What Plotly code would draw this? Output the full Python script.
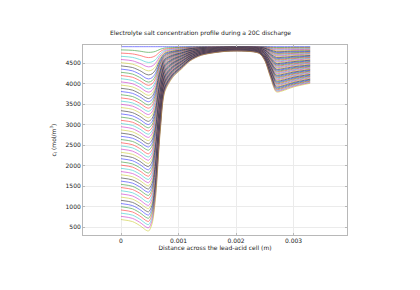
import plotly.graph_objects as go

# Distance across the cell (m) at which each profile was read
x_positions = [0, 0.0002, 0.00035, 0.00042, 0.00048, 0.00054, 0.0006, 0.00068, 0.00076, 0.0009,
               0.00105, 0.0012, 0.0014, 0.0019, 0.0024, 0.0025, 0.0026, 0.0027, 0.0028, 0.0030, 0.00329]

# Electrolyte concentration (mol/m^3), one row per time snapshot
concentration_profiles = [
    [4900]*21,
    [4822,4811,4786,4769,4762,4767,4786,4836,4867,4878,4884,4890,4895,4898,4897,4894,4886,4880,4880,4882,4884],
    [4744,4724,4678,4647,4634,4644,4681,4777,4837,4858,4870,4882,4890,4896,4894,4887,4872,4859,4860,4864,4867],
    [4666,4639,4576,4534,4516,4531,4584,4722,4808,4839,4856,4873,4885,4894,4891,4881,4858,4839,4840,4845,4850],
    [4588,4556,4480,4430,4408,4427,4495,4672,4782,4821,4844,4865,4881,4892,4888,4875,4844,4818,4820,4827,4834],
    [4510,4474,4390,4334,4310,4333,4414,4626,4758,4805,4832,4858,4877,4890,4885,4869,4831,4798,4800,4809,4818],
    [4432,4392,4300,4238,4212,4239,4334,4580,4735,4789,4820,4851,4872,4888,4882,4862,4817,4778,4780,4791,4801],
    [4354,4311,4210,4143,4114,4145,4253,4535,4711,4773,4809,4844,4868,4886,4879,4856,4803,4757,4760,4773,4784],
    [4276,4233,4132,4065,4036,4070,4189,4498,4692,4760,4799,4837,4865,4884,4876,4850,4789,4737,4740,4754,4768],
    [4198,4155,4054,3987,3958,3995,4124,4462,4672,4747,4790,4831,4861,4882,4873,4843,4775,4716,4720,4736,4752],
    [4120,4075,3970,3900,3870,3910,4052,4420,4651,4733,4779,4824,4857,4880,4870,4837,4761,4696,4700,4718,4735],
    [4042,3997,3892,3822,3792,3835,3988,4384,4631,4719,4769,4818,4853,4878,4867,4831,4747,4676,4680,4700,4719],
    [3964,3919,3814,3744,3714,3760,3923,4347,4612,4706,4760,4812,4849,4876,4864,4824,4733,4655,4660,4682,4702],
    [3886,3841,3736,3666,3636,3686,3859,4311,4593,4693,4750,4806,4846,4874,4861,4818,4719,4635,4640,4663,4686],
    [3808,3763,3658,3588,3558,3611,3795,4274,4574,4680,4741,4800,4842,4872,4858,4812,4705,4614,4620,4645,4669],
    [3730,3685,3580,3510,3480,3536,3730,4238,4554,4667,4731,4794,4838,4870,4855,4806,4692,4594,4600,4627,4653],
    [3652,3607,3502,3432,3402,3461,3666,4201,4535,4654,4721,4787,4834,4868,4852,4799,4678,4574,4580,4609,4636],
    [3574,3529,3424,3354,3324,3386,3602,4164,4516,4641,4712,4781,4831,4866,4849,4793,4664,4553,4560,4591,4620],
    [3496,3451,3346,3276,3246,3311,3537,4128,4497,4628,4702,4775,4827,4864,4846,4787,4650,4533,4540,4572,4603],
    [3418,3373,3268,3198,3168,3236,3473,4091,4477,4615,4693,4769,4823,4862,4843,4780,4636,4512,4520,4554,4586],
    [3340,3293,3184,3111,3080,3151,3400,4050,4456,4600,4682,4762,4819,4860,4840,4774,4622,4492,4500,4536,4570],
    [3262,3215,3106,3033,3002,3076,3336,4013,4437,4587,4672,4756,4815,4858,4837,4768,4608,4472,4480,4518,4554],
    [3184,3137,3028,2955,2924,3001,3272,3977,4417,4574,4663,4750,4812,4856,4834,4761,4594,4451,4460,4500,4537],
    [3106,3059,2950,2877,2846,2926,3207,3940,4398,4561,4653,4744,4808,4854,4831,4755,4580,4431,4440,4481,4520],
    [3028,2981,2872,2799,2768,2851,3143,3904,4379,4548,4644,4737,4804,4852,4828,4749,4566,4410,4420,4463,4504],
    [2950,2903,2794,2721,2690,2776,3079,3867,4360,4535,4634,4731,4800,4850,4825,4743,4553,4390,4400,4445,4488],
    [2872,2825,2716,2643,2612,2701,3015,3831,4340,4522,4624,4725,4797,4848,4822,4736,4539,4370,4380,4427,4471],
    [2794,2747,2638,2565,2534,2626,2950,3794,4321,4508,4615,4719,4793,4846,4819,4730,4525,4349,4360,4409,4454],
    [2716,2669,2560,2487,2456,2552,2886,3757,4302,4495,4605,4713,4789,4844,4816,4724,4511,4329,4340,4390,4438],
    [2638,2591,2482,2409,2378,2477,2822,3721,4283,4482,4596,4706,4785,4842,4813,4717,4497,4308,4320,4372,4421],
    [2560,2511,2398,2322,2290,2392,2749,3680,4261,4468,4585,4700,4781,4840,4810,4711,4483,4288,4300,4354,4405],
    [2482,2433,2320,2244,2212,2317,2685,3643,4242,4455,4575,4694,4778,4838,4807,4705,4469,4268,4280,4336,4389],
    [2404,2355,2242,2166,2134,2242,2620,3607,4223,4441,4566,4687,4774,4836,4804,4698,4455,4247,4260,4318,4372],
    [2326,2277,2164,2088,2056,2167,2556,3570,4203,4428,4556,4681,4770,4834,4801,4692,4441,4227,4240,4299,4355],
    [2248,2199,2086,2010,1978,2092,2492,3533,4184,4415,4547,4675,4766,4832,4798,4686,4427,4206,4220,4281,4339],
    [2170,2121,2008,1932,1900,2017,2427,3497,4165,4402,4537,4669,4763,4830,4795,4680,4414,4186,4200,4263,4323],
    [2092,2043,1930,1854,1822,1942,2363,3460,4146,4389,4527,4663,4759,4828,4792,4673,4400,4166,4180,4245,4306],
    [2014,1965,1852,1776,1744,1867,2299,3424,4126,4376,4518,4656,4755,4826,4789,4667,4386,4145,4160,4227,4290],
    [1936,1887,1774,1698,1666,1792,2234,3387,4107,4363,4508,4650,4751,4824,4786,4661,4372,4125,4140,4208,4273],
    [1858,1809,1696,1620,1588,1717,2170,3351,4088,4350,4499,4644,4748,4822,4783,4654,4358,4104,4120,4190,4256],
    [1780,1731,1618,1542,1510,1642,2106,3314,4069,4337,4489,4638,4744,4820,4780,4648,4344,4084,4100,4172,4240],
    [1702,1653,1540,1464,1432,1567,2042,3277,4049,4324,4479,4632,4740,4818,4777,4642,4330,4064,4080,4154,4224],
    [1624,1575,1462,1386,1354,1492,1977,3241,4030,4311,4470,4626,4736,4816,4774,4635,4316,4043,4060,4136,4207],
    [1546,1497,1384,1308,1276,1418,1913,3204,4011,4297,4460,4619,4733,4814,4771,4629,4302,4023,4040,4117,4190],
    [1468,1419,1306,1230,1198,1343,1849,3168,3992,4284,4451,4613,4729,4812,4768,4623,4288,4002,4020,4099,4174],
    [1390,1340,1222,1144,1110,1258,1776,3127,3970,4270,4440,4607,4725,4810,4765,4617,4275,3982,4000,4081,4158],
    [1312,1262,1144,1066,1032,1183,1712,3090,3951,4257,4430,4600,4721,4808,4762,4610,4261,3962,3980,4063,4141],
    [1234,1184,1066,988,954,1108,1647,3053,3932,4244,4421,4594,4717,4806,4759,4604,4247,3941,3960,4045,4125],
    [1156,1106,988,910,876,1033,1583,3017,3912,4231,4411,4588,4714,4804,4756,4598,4233,3921,3940,4026,4108],
    [1078,1028,910,832,798,958,1519,2980,3893,4217,4402,4582,4710,4802,4753,4591,4219,3900,3920,4008,4092],
    [1000,950,832,754,720,883,1454,2944,3874,4204,4392,4576,4706,4800,4750,4585,4205,3880,3900,3990,4075],
    [922,872,754,676,642,808,1390,2907,3855,4191,4382,4569,4702,4798,4747,4579,4191,3860,3880,3972,4059],
    [844,794,676,598,564,733,1326,2870,3835,4178,4373,4563,4699,4796,4744,4572,4177,3839,3860,3954,4042],
    [766,716,598,520,486,658,1261,2834,3816,4165,4363,4557,4695,4794,4741,4566,4163,3819,3840,3935,4026],
    [688,638,520,442,408,583,1197,2797,3797,4152,4354,4551,4691,4792,4738,4560,4149,3798,3820,3917,4009],
]

x_tick_values = [0, 0.001, 0.002, 0.003]
x_tick_labels = ["0", "0.001", "0.002", "0.003"]
y_tick_values = [500, 1000, 1500, 2000, 2500, 3000, 3500, 4000, 4500]

line_colors = ["#0000ff", "#008000", "#ff0000", "#00bfbf", "#bf00bf", "#bfbf00", "#000000"]

FONT = "DejaVu Sans"

fig = go.Figure()
for i, row in enumerate(concentration_profiles):
    fig.add_trace(go.Scatter(
        x=x_positions, y=row, mode="lines",
        line=dict(color=line_colors[i % len(line_colors)], width=0.8, shape="spline", smoothing=0.8),
        opacity=0.6, showlegend=False, hoverinfo="skip"))

axis_common = dict(
    showline=True, linecolor="#b8b8b8", linewidth=1, mirror="ticks",
    ticks="inside", ticklen=2, tickcolor="#b8b8b8",
    showgrid=True, gridcolor="#ebebeb", gridwidth=0.6,
    zeroline=False, tickfont=dict(family=FONT, size=6, color="#222"),
)

fig.update_layout(
    width=420, height=290,
    margin=dict(l=83, r=73, t=44.5, b=54.5),
    paper_bgcolor="white", plot_bgcolor="white",
    title=dict(text="Electrolyte salt concentration profile during a 20C discharge",
               x=0.4774, xref="container", xanchor="center",
               y=1 - 33.3 / 290, yref="container", yanchor="middle",
               font=dict(family=FONT, size=6, color="#222")),
    xaxis=dict(range=[-0.000661, 0.00393], tickvals=x_tick_values, ticktext=x_tick_labels,
               title=dict(text="Distance across the lead-acid cell (m)", standoff=0,
                          font=dict(family=FONT, size=6, color="#222")),
               **axis_common),
    yaxis=dict(range=[311, 4941], tickvals=y_tick_values,
               title=dict(text="c<sub>l</sub> (mol/m<sup>3</sup>)", standoff=8,
                          font=dict(family=FONT, size=6, color="#222")),
               **axis_common),
)

fig.write_html("out.html")
